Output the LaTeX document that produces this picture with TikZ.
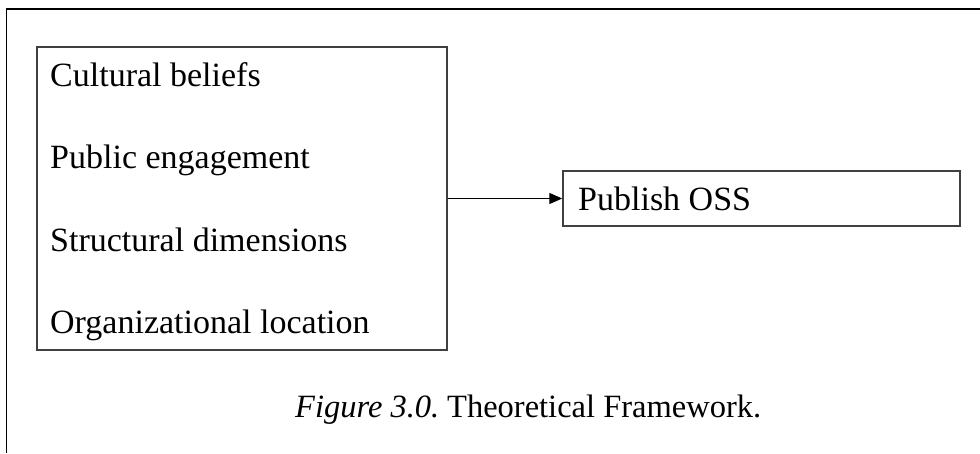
\documentclass[tikz,border=0pt]{standalone}
\usepackage{fontspec}
\setmainfont{Liberation Serif}
\usetikzlibrary{arrows.meta}
\begin{document}
\begin{tikzpicture}[x=1pt,y=-1pt,
  frame/.style={line width=1.8pt,draw=black},
  boxline/.style={draw=black!75,line width=1.5pt},
  item/.style={anchor=base west,inner sep=0pt,font=\fontsize{34}{40}\selectfont},
  link/.style={line width=1.3pt,-{Triangle[length=13pt,width=11pt]}}]
  \useasboundingbox (0,0) rectangle (980,453);
  % partial outer frame: top and left edges
  \coordinate (ftl) at (6.5,9);
  \coordinate (ftr) at (980,9);
  \coordinate (fbl) at (6.5,453);
  \draw[frame] (ftr) -- (ftl) -- (fbl);
  % factors box
  \node[boxline,minimum width=410pt,minimum height=303pt,inner sep=0pt] (factors) at (242,198.5) {};
  \node[item] (t1) at (50,86) {Cultural beliefs};
  \node[item] (t2) at (50,168) {Public engagement};
  \node[item] (t3) at (50,251) {Structural dimensions};
  \node[item] (t4) at (50,333) {Organizational location};
  % outcome box
  \node[boxline,minimum width=397pt,minimum height=55pt,inner sep=0pt] (pub) at (761.5,198.5) {};
  \node[item] (pubtext) at (578,210) {Publish OSS};
  \draw[link] (factors.east) -- (pub.west);
  % caption
  \node[item,font=\fontsize{32.5}{38}\selectfont] (cap) at (295,417) {\textit{Figure 3.0.}\hspace{-3pt} Theoretical Framework.};
\end{tikzpicture}
\end{document}
